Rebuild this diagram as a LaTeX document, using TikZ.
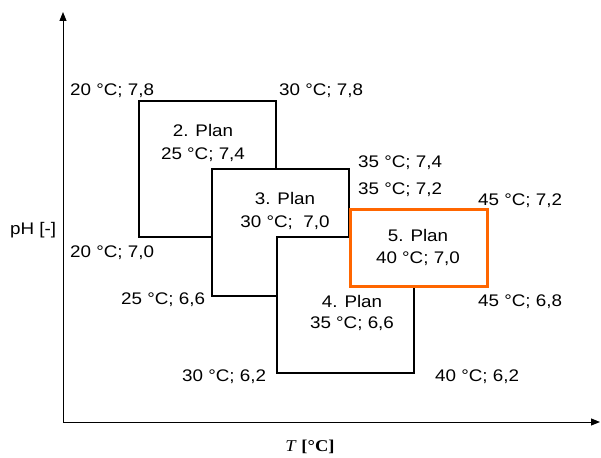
\documentclass[tikz,border=0pt]{standalone}
\usepackage{fontspec}
\newfontfamily\lblfont{Liberation Sans}[FakeStretch=1.12]
\newfontfamily\serfont{Liberation Serif}[FakeStretch=1.12]
\usetikzlibrary{arrows.meta}
\definecolor{planorange}{RGB}{255,102,0}
\begin{document}
\begin{tikzpicture}[x=1pt,y=-1pt,
  lbl/.style={font=\lblfont\fontsize{16.8}{19}\selectfont, inner sep=0pt, anchor=base west},
  ctr/.style={font=\lblfont\fontsize{16.8}{19}\selectfont, inner sep=0pt, anchor=base},
  thinbox/.style={draw=black, fill=white, line width=1.1pt},
  thickbox/.style={draw=black, fill=white, line width=2.6pt},
  orangebox/.style={draw=planorange, fill=white, line width=3pt},
  axis/.style={draw=black, line width=1pt, -{Triangle[length=9,width=7]}}]
\useasboundingbox (0,0) rectangle (601,457);
% axes
\coordinate (O) at (63,422);
\coordinate (Ytip) at (63,12);
\coordinate (Xtip) at (600,422);
\draw[axis] (O) -- (Ytip);
\draw[axis] (O) -- (Xtip);
% boxes
\path[thinbox] (139,101) rectangle (276,237);
\path[thinbox] (212,169) rectangle (349,296);
\path[thickbox] (277,237) rectangle (414,373);
\path[orangebox] (350,209) rectangle (487,286);
% corner labels
\node[lbl] (c1) at (70,96) {20 °C; 7,8};
\node[lbl] (c2) at (279,96) {30 °C; 7,8};
\node[lbl] (c3) at (358,167) {35 °C; 7,4};
\node[lbl] (c4) at (358,194) {35 °C; 7,2};
\node[lbl] (c5) at (478,205) {45 °C; 7,2};
\node[lbl] (c6) at (478,306.5) {45 °C; 6,8};
\node[lbl] (c7) at (435,381.5) {40 °C; 6,2};
\node[lbl] (c8) at (182,381.5) {30 °C; 6,2};
\node[lbl] (c9) at (121,304.5) {25 °C; 6,6};
\node[lbl] (c10) at (70,257.5) {20 °C; 7,0};
% plan labels
\node[ctr] (p2a) at (203,136.5) {2. Plan};
\node[ctr] (p2b) at (203,159) {25 °C; 7,4};
\node[ctr] (p3a) at (285,204.5) {3. Plan};
\node[ctr] (p3b) at (285,227.5) {30 °C;~~7,0};
\node[ctr] (p5a) at (418,241.5) {5. Plan};
\node[ctr] (p5b) at (418,263.5) {40 °C; 7,0};
\node[ctr] (p4a) at (352,307.5) {4. Plan};
\node[ctr] (p4b) at (352,328.5) {35 °C; 6,6};
% axis labels
\node[lbl] (ylab) at (10,234.5) {pH [-]};
\node[inner sep=0pt, anchor=base, font=\serfont\fontsize{16.5}{19}\selectfont] (xlab) at (310,451) {\textit{T} \textbf{[°C]}};
\end{tikzpicture}
\end{document}
